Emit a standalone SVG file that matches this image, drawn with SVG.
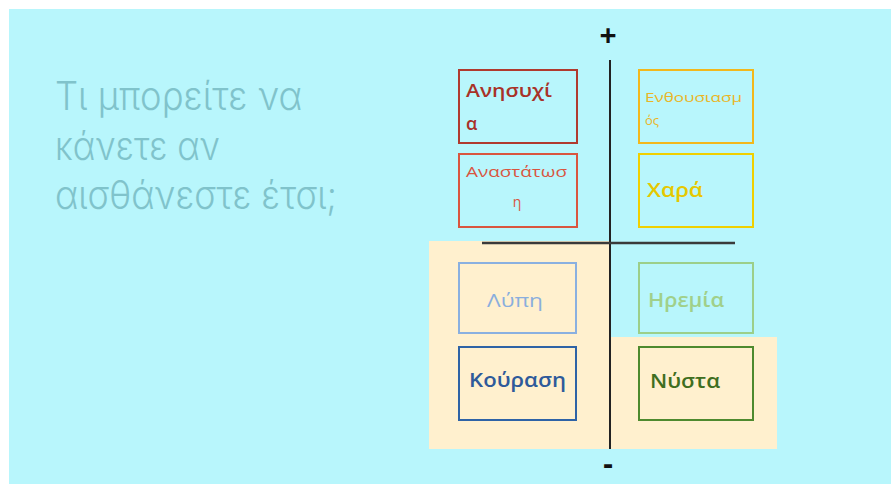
<svg xmlns="http://www.w3.org/2000/svg" width="891" height="489" viewBox="0 0 891 489">
<style>
text { font-family: "Open Sans", "Noto Sans", "DejaVu Sans", sans-serif; }
.box { fill: none; stroke-width: 2; }
.title { fill: #80C3CB; font-size: 39px; font-family: Inter, "Open Sans", sans-serif; font-weight: 300; }
.sign { fill: #111; font-weight: bold; text-anchor: middle; }
</style>
<rect x="0" y="0" width="891" height="489" fill="#FFFFFF"/>
<rect x="9" y="9" width="882" height="475" fill="#B8F6FC"/>
<g id="title">
  <text class="title" x="55" y="110" textLength="247" lengthAdjust="spacingAndGlyphs">Τι μπορείτε να</text>
  <text class="title" x="55" y="160" textLength="165" lengthAdjust="spacingAndGlyphs">κάνετε αν</text>
  <text class="title" x="55" y="209" textLength="282" lengthAdjust="spacingAndGlyphs">αισθάνεστε έτσι;</text>
</g>
<g id="quadrants">
  <rect x="429" y="241" width="181" height="208" fill="#FFF0CE"/>
  <rect x="610" y="337" width="167" height="112" fill="#FFF0CE"/>
</g>
<g id="axes">
  <line x1="610" y1="60" x2="610" y2="449" stroke="#222" stroke-width="2"/>
  <line x1="482" y1="243" x2="735" y2="243" stroke="#3A3A3A" stroke-width="2.5"/>
  <text class="sign" x="608" y="46" font-size="30">+</text>
  <text class="sign" x="608" y="474" font-size="30">-</text>
</g>
<g id="anisyxia">
  <rect class="box" x="459" y="70" width="118" height="73" stroke="#B03A2E"/>
  <text x="466" y="97" font-size="18" font-weight="600" fill="#A83228" textLength="86" lengthAdjust="spacingAndGlyphs">Ανησυχί</text>
  <text x="466" y="130" font-size="18" font-weight="600" fill="#A83228">α</text>
</g>
<g id="anastatwsi">
  <rect class="box" x="459" y="154" width="118" height="73" stroke="#D9553F"/>
  <text x="466" y="177" font-size="14" fill="#D9553F" textLength="101" lengthAdjust="spacingAndGlyphs">Αναστάτωσ</text>
  <text x="517" y="207" font-size="14" fill="#D9553F" text-anchor="middle">η</text>
</g>
<g id="enthousiasmos">
  <rect class="box" x="639" y="70" width="114" height="73" stroke="#F2B81C"/>
  <text x="645" y="102" font-size="13" fill="#EAB525" textLength="97" lengthAdjust="spacingAndGlyphs">Ενθουσιασμ</text>
  <text x="645" y="125" font-size="13" fill="#EAB525">ός</text>
</g>
<g id="xara">
  <rect class="box" x="639" y="154" width="114" height="73" stroke="#F0D000"/>
  <text x="647" y="197" font-size="20" font-weight="600" fill="#E6C800" textLength="56" lengthAdjust="spacingAndGlyphs">Χαρά</text>
</g>
<g id="lypi">
  <rect class="box" x="459" y="263" width="117" height="70" stroke="#8AB0E0"/>
  <text x="487" y="307" font-size="19" fill="#8AAEDD" textLength="56" lengthAdjust="spacingAndGlyphs">Λύπη</text>
</g>
<g id="kourasi">
  <rect class="box" x="459" y="347" width="117" height="73" stroke="#2E63A6"/>
  <text x="469" y="387" font-size="19" font-weight="600" fill="#2E5A9A" textLength="97" lengthAdjust="spacingAndGlyphs">Κούραση</text>
</g>
<g id="iremia">
  <rect class="box" x="639" y="263" width="114" height="70" stroke="#9CCF8A"/>
  <text x="648" y="307" font-size="19" font-weight="600" fill="#A0D08A" textLength="76" lengthAdjust="spacingAndGlyphs">Ηρεμία</text>
</g>
<g id="nysta">
  <rect class="box" x="639" y="347" width="114" height="73" stroke="#4E8A2E"/>
  <text x="650" y="388" font-size="19" font-weight="600" fill="#3F6E20" textLength="70" lengthAdjust="spacingAndGlyphs">Νύστα</text>
</g>
</svg>
